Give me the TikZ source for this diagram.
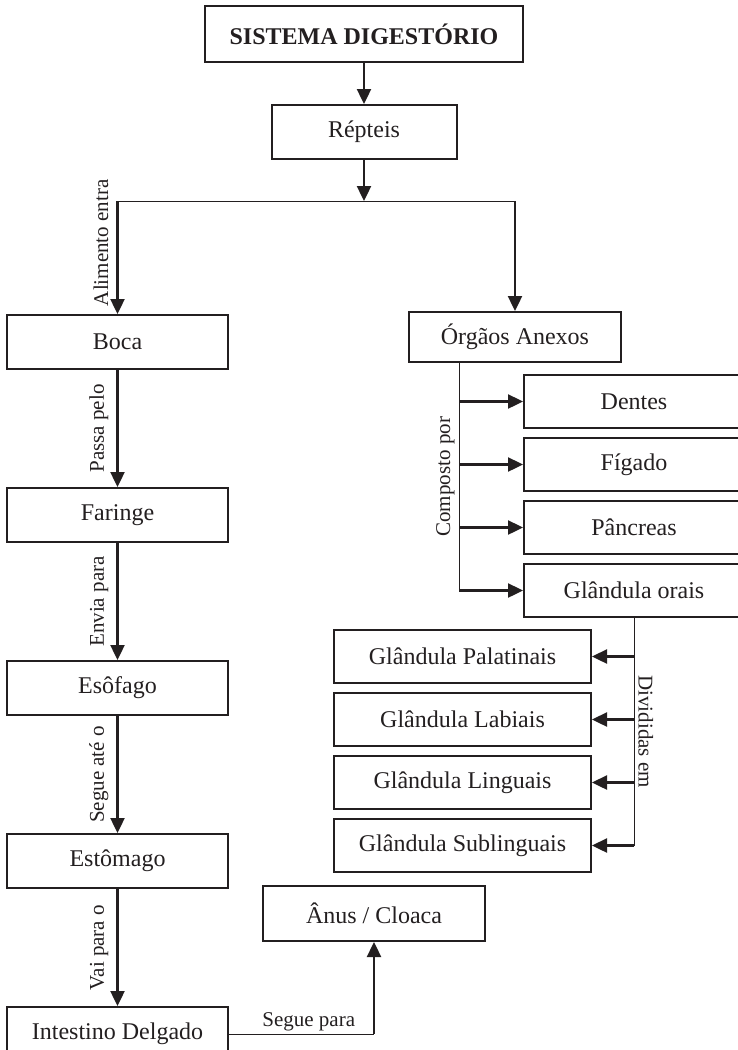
\documentclass[tikz,border=0pt]{standalone}
\usepackage{fontspec}
\setmainfont{Liberation Serif}
\usepackage{tikz}
\usetikzlibrary{arrows.meta,positioning,calc}
\definecolor{ink}{HTML}{231F20}

\begin{document}
\begin{tikzpicture}[x=0.5pt,y=0.5pt,node distance=58.5pt,every node/.style={font=\fontsize{12}{14}\selectfont,text=ink},box/.style={draw=ink,line width=1pt,align=center,minimum width=110.5pt,minimum height=27pt,inner sep=2pt},sub/.style={box,minimum width=110pt,minimum height=26.5pt},gland/.style={box,minimum width=128.5pt,minimum height=26.5pt},arr/.style={-{Triangle[length=7.5pt,width=7pt]},line width=1.2pt,draw=ink},link/.style={line width=0.5pt,draw=ink},lbl/.style={font=\fontsize{10.5}{12}\selectfont,inner sep=4pt}]
\clip[use as bounding box] (0,0) rectangle (738,-1050);
% topo
\node[box,font=\fontsize{12}{14}\selectfont\bfseries,minimum width=159pt,minimum height=28pt] (sis) at (364,-34) {SISTEMA DIGESTÓRIO};
\node[box,minimum width=92.5pt,below=20.5pt of sis] (rep) {Répteis};
\coordinate (split) at ($(rep.south)+(0,-41)$);
% caminho do alimento
\node[box] (boca) at (117.5,-342) {Boca};
\node[box,below=of boca] (far) {Faringe};
\node[box,below=of far] (eso) {Esôfago};
\node[box,below=of eso] (est) {Estômago};
\node[box,below=of est] (int) {Intestino Delgado};
\node[box,minimum width=111pt,minimum height=27.5pt] (anus) at (374,-913.5) {Ânus / Cloaca};
\coordinate (bend) at (int.east -| anus.south);
% orgaos anexos
\node[box,minimum width=106pt,minimum height=25pt] (org) at (515,-337) {Órgãos Anexos};
\coordinate (trunk) at ($(org.south)+(-56,0)$);
\node[sub,anchor=west] (den) at (523,-401.5) {Dentes};
\node[sub,below=4pt of den] (fig) {Fígado};
\node[sub,below=4pt of fig] (pan) {Pâncreas};
\node[sub,below=4pt of pan] (ora) {Glândula orais};
\node[gland,anchor=east] (pal) at (592,-656.5) {Glândula Palatinais};
\node[gland,below=4pt of pal] (lab) {Glândula Labiais};
\node[gland,below=4pt of lab] (lin) {Glândula Linguais};
\node[gland,below=4pt of lin] (sbl) {Glândula Sublinguais};
% ligacoes
\draw[arr] (sis) -- (rep);\draw[arr] (rep) -- (split);
\draw[link] (split -| boca.north) -- (split -| org.north);
\draw[arr] (split -| boca.north) -- node[lbl,rotate=90,anchor=south,pos=0.37] {Alimento entra} (boca);
\draw[arr] (split -| org.north) -- (org);
\draw[arr] (boca) -- node[lbl,rotate=90,anchor=south] {Passa pelo} (far);
\draw[arr] (far) -- node[lbl,rotate=90,anchor=south] {Envia para} (eso);
\draw[arr] (eso) -- node[lbl,rotate=90,anchor=south] {Segue até o} (est);
\draw[arr] (est) -- node[lbl,rotate=90,anchor=south] {Vai para o} (int);
\draw[link] (int.east) -- node[lbl,above,inner sep=1pt,pos=0.55] {Segue para} (bend);
\draw[arr] (bend) -- (anus);
\draw[link] (trunk) -- node[lbl,rotate=90,anchor=south,inner sep=2pt] {Composto por} (trunk |- ora.west);
\draw[arr] (trunk |- den.west) -- (den.west);\draw[arr] (trunk |- fig.west) -- (fig.west);\draw[arr] (trunk |- pan.west) -- (pan.west);\draw[arr] (trunk |- ora.west) -- (ora.west);
\draw[link] (ora.south) -- node[lbl,rotate=-90,anchor=south,inner sep=2pt] {Divididas em} (ora.south |- sbl.east);
\draw[arr] (ora.south |- pal.east) -- (pal.east);\draw[arr] (ora.south |- lab.east) -- (lab.east);\draw[arr] (ora.south |- lin.east) -- (lin.east);\draw[arr] (ora.south |- sbl.east) -- (sbl.east);
\end{tikzpicture}
\end{document}
